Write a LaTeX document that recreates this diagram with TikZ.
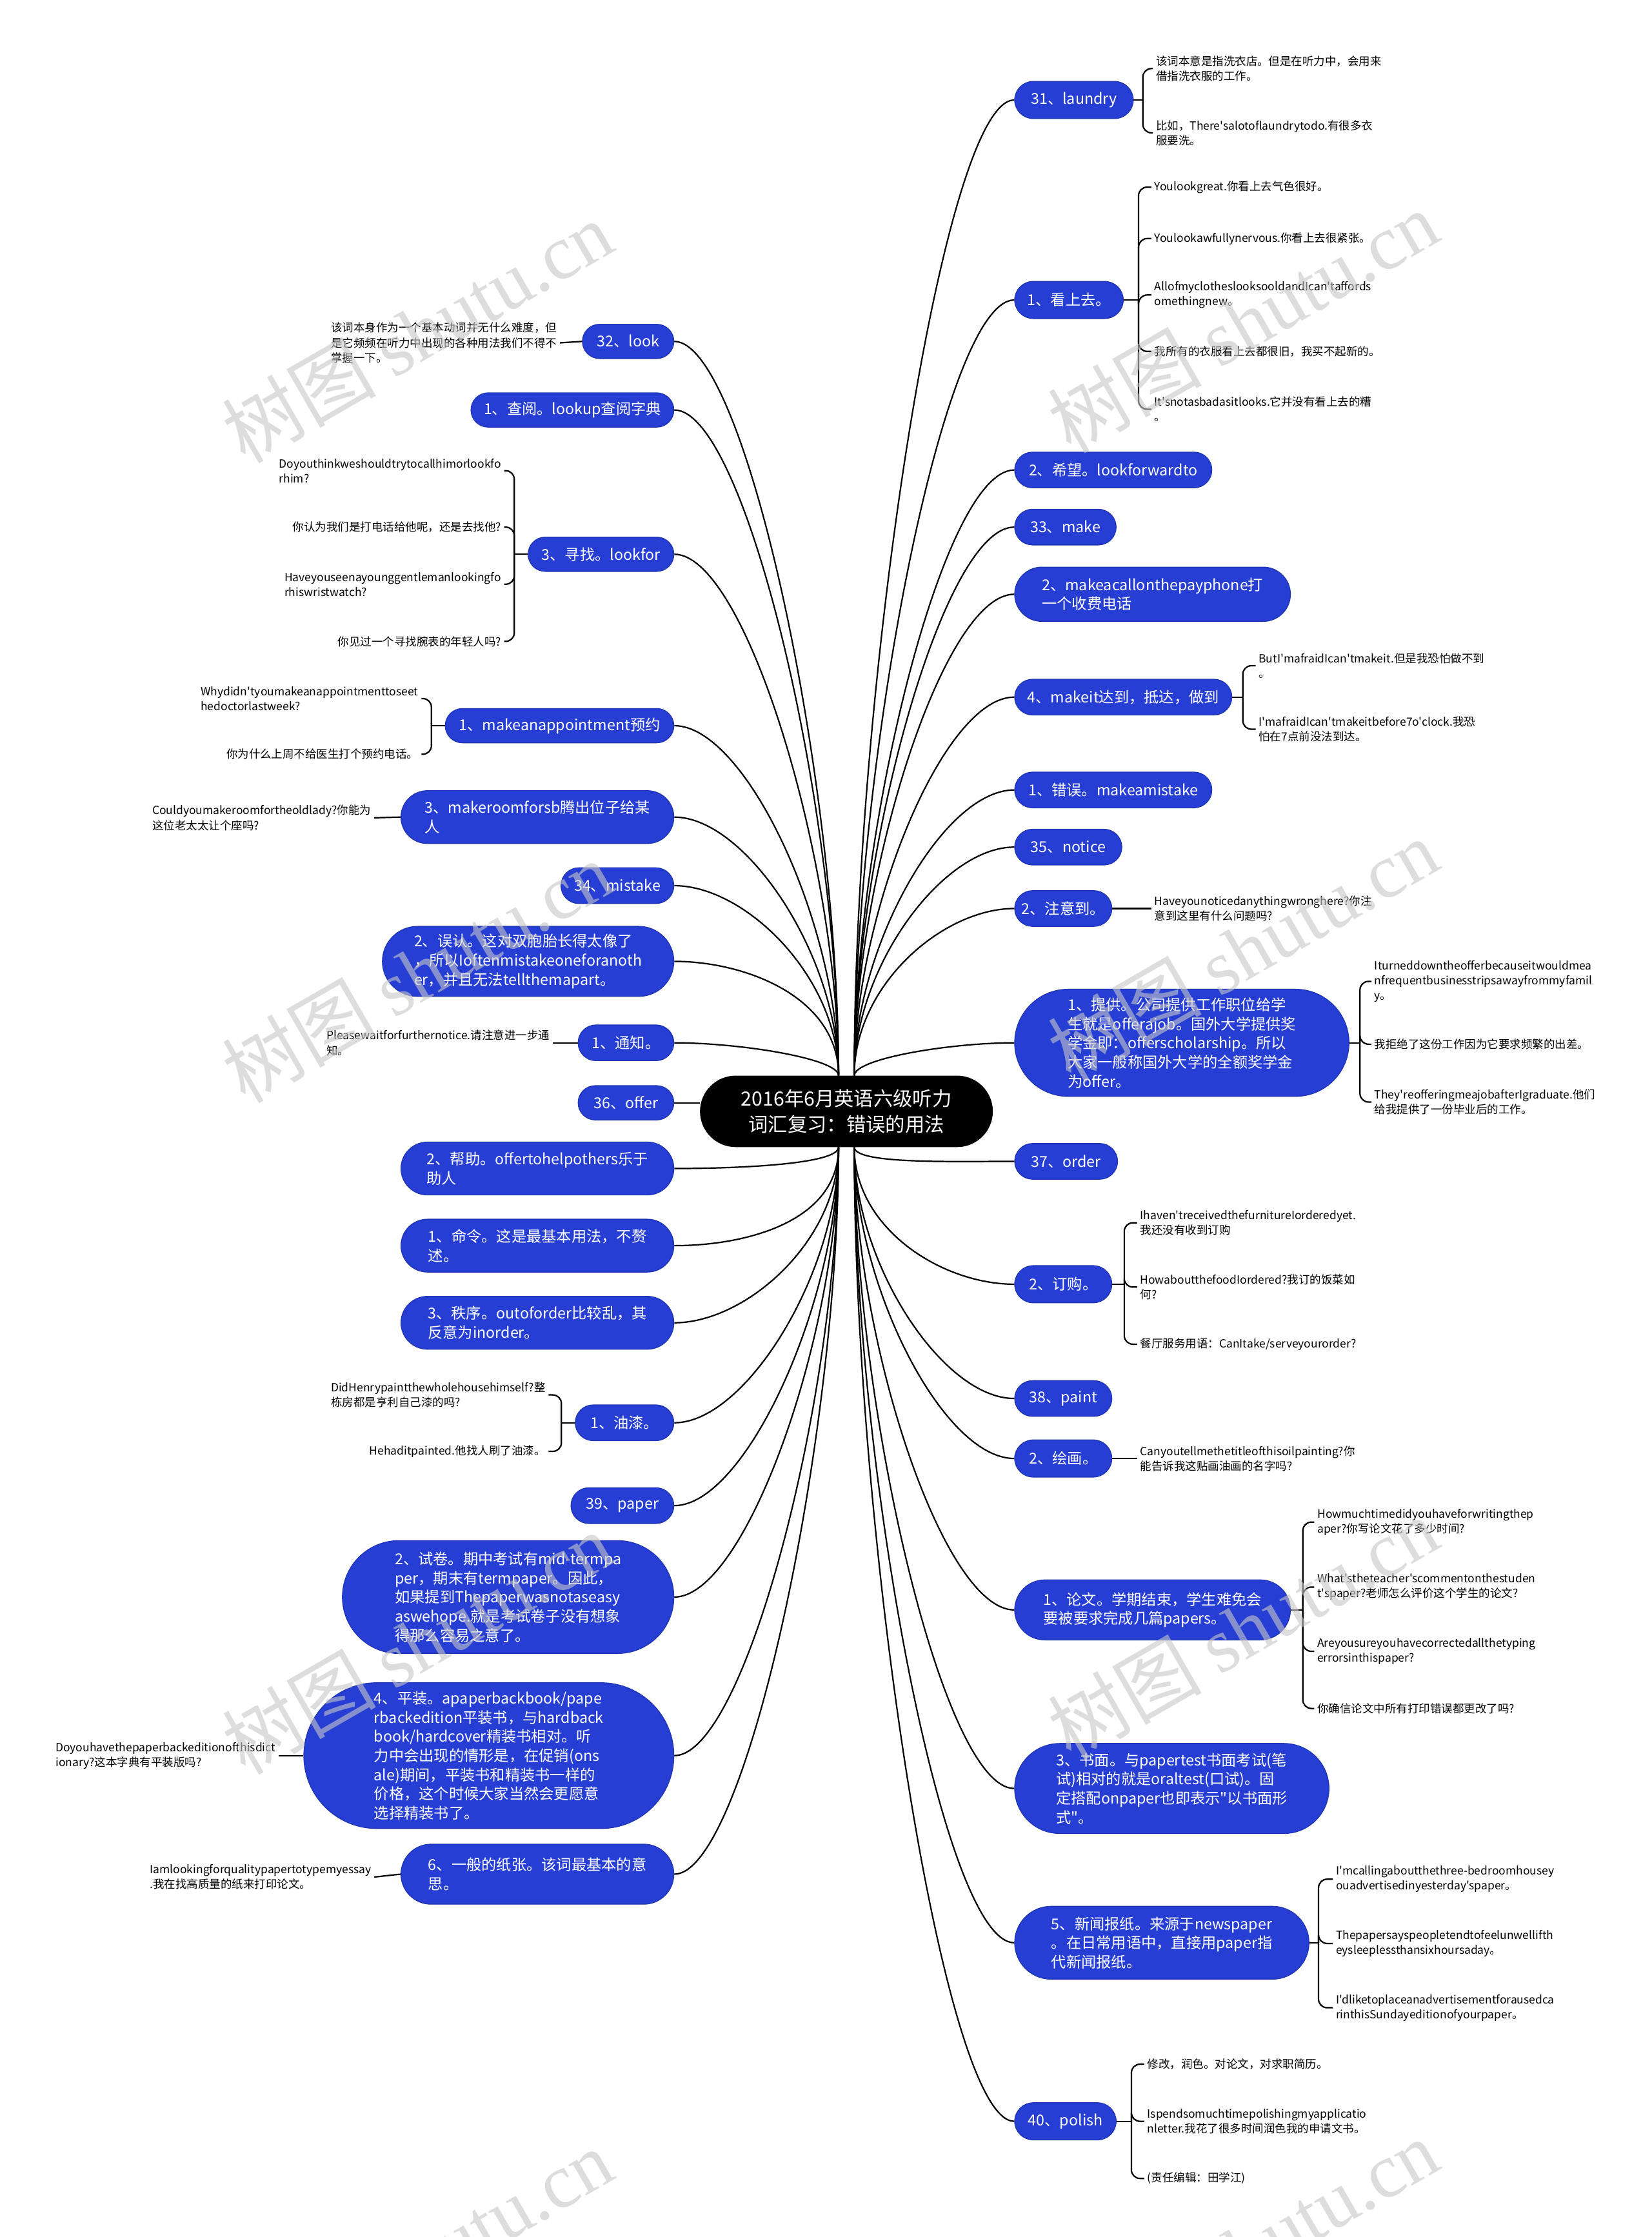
\documentclass[tikz,border=0pt]{standalone}
\usepackage{fontspec}
\setmainfont{Noto Sans CJK SC}[Ligatures=TeXOff]
\newfontfamily\markfont{Liberation Serif}
\definecolor{nodeblue}{RGB}{38,62,212}

\begin{document}
\begin{tikzpicture}[x=1pt, y=1pt,
  main node/.style={fill=black, text=white, align=center, inner sep=0pt,
    minimum width=205, minimum height=50, rounded corners=25,
    font=\fontsize{13.7}{18}\selectfont},
  sub node/.style 2 args={fill=nodeblue, draw=nodeblue!85!black, line width=0.6pt,
    text=white, align=left, inner sep=0pt, minimum width=#1, minimum height=#2,
    rounded corners=0.5*#2, font=\fontsize{10.5}{13.4}\selectfont},
  leaf node/.style={align=left, inner sep=2pt, font=\fontsize{7.9}{10.5}\selectfont},
  every edge/.style={draw, line width=1pt},
  rise right/.style={out=90, in=180, in max distance=50},
  rise left/.style={out=90, in=0, in max distance=50},
  sink right/.style={out=-90, in=180, in max distance=50},
  sink left/.style={out=-90, in=0, in max distance=50},
  close in/.style={out max distance=12},
  fork/.style={to path={(\tikztostart) |- (\tikztotarget)}, rounded corners=6},
  watermark/.style={text=black!22, opacity=0.6, rotate=30, inner sep=0pt,
    font=\fontsize{54}{54}\selectfont}]
\path[use as bounding box, fill=white] (0,0) rectangle (1156,-1566);

\node[main node] (root) at (592.5,-778) {2016年6月英语六级听力\\词汇复习：错误的用法};
\coordinate (tr) at (598,-753);
\coordinate (tl) at (587,-753);
\coordinate (br) at (598,-803);
\coordinate (bl) at (587,-803);

\node[sub node={83}{26}, anchor=west]  (la) at (710,-70)   {31、laundry};
\node[sub node={76}{26}, anchor=west]  (ks) at (710,-210)  {1、看上去。};
\node[sub node={138}{25}, anchor=west] (lf) at (710,-329)  {2、希望。lookforwardto};
\node[sub node={71}{25}, anchor=west]  (mk) at (710,-369)  {33、make};
\node[sub node={193}{38}, anchor=west] (mc) at (710,-416)  {2、makeacallonthepayphone打\\一个收费电话};
\node[sub node={152}{25}, anchor=west] (mi) at (710,-488)  {4、makeit达到，抵达，做到};
\node[sub node={138}{25}, anchor=west] (me) at (710,-553)  {1、错误。makeamistake};
\node[sub node={75}{25}, anchor=west]  (no) at (710,-593)  {35、notice};
\node[sub node={68}{25}, anchor=west]  (nt) at (710,-636)  {2、注意到。};
\node[sub node={234}{75}, anchor=west] (pv) at (710,-730)  {1、提供。公司提供工作职位给学\\生就是offerajob。国外大学提供奖\\学金即：offerscholarship。所以\\大家一般称国外大学的全额奖学金\\为offer。};
\node[sub node={72}{25}, anchor=west]  (or) at (710,-813)  {37、order};
\node[sub node={68}{26}, anchor=west]  (ob) at (710,-899)  {2、订购。};
\node[sub node={68}{25}, anchor=west]  (pt) at (710,-979)  {38、paint};
\node[sub node={68}{26}, anchor=west]  (pg) at (710,-1021) {2、绘画。};
\node[sub node={193}{42}, anchor=west] (pa) at (710,-1127) {1、论文。学期结束，学生难免会\\要被要求完成几篇papers。};
\node[sub node={220}{63}, anchor=west] (pw) at (710,-1252) {3、书面。与papertest书面考试(笔\\试)相对的就是oraltest(口试)。固\\定搭配onpaper也即表示"以书面形\\式"。};
\node[sub node={206}{51}, anchor=west] (pn) at (710,-1360) {5、新闻报纸。来源于newspaper\\。在日常用语中，直接用paper指\\代新闻报纸。};
\node[sub node={71}{26}, anchor=west]  (po) at (710,-1485) {40、polish};

\node[sub node={64}{24}, anchor=east]   (lk)  at (472,-239)  {32、look};
\node[sub node={142}{24}, anchor=east]  (lu)  at (472,-287)  {1、查阅。lookup查阅字典};
\node[sub node={102}{24}, anchor=east]  (lo)  at (472,-388)  {3、寻找。lookfor};
\node[sub node={160}{24}, anchor=east]  (ap)  at (472,-508)  {1、makeanappointment预约};
\node[sub node={191}{37}, anchor=east]  (mr)  at (472,-572)  {3、makeroomforsb腾出位子给某\\人};
\node[sub node={79}{25}, anchor=east]   (ms)  at (472,-620)  {34、mistake};
\node[sub node={204}{49}, anchor=east]  (mt)  at (472,-673)  {2、误认。这对双胞胎长得太像了\\，所以Ioftenmistakeoneforanoth\\er，并且无法tellthemapart。};
\node[sub node={67}{25}, anchor=east]   (tz)  at (472,-730)  {1、通知。};
\node[sub node={67}{24}, anchor=east]   (ofr) at (472,-772)  {36、offer};
\node[sub node={191}{37}, anchor=east]  (hp)  at (472,-818)  {2、帮助。offertohelpothers乐于\\助人};
\node[sub node={191}{37}, anchor=east]  (cm)  at (472,-872)  {1、命令。这是最基本用法，不赘\\述。};
\node[sub node={191}{37}, anchor=east]  (ox)  at (472,-926)  {3、秩序。outoforder比较乱，其\\反意为inorder。};
\node[sub node={69}{25}, anchor=east]   (pi)  at (472,-996)  {1、油漆。};
\node[sub node={72}{25}, anchor=east]   (pr)  at (472,-1054) {39、paper};
\node[sub node={232}{79}, anchor=east]  (ex)  at (472,-1118) {2、试卷。期中考试有mid-termpa\\per，期末有termpaper。因此，\\如果提到Thepaperwasnotaseasy\\aswehope.就是考试卷子没有想象\\得那么容易之意了。};
\node[sub node={259}{102}, anchor=east] (pb)  at (472,-1229) {4、平装。apaperbackbook/pape\\rbackedition平装书，与hardback\\book/hardcover精装书相对。听\\力中会出现的情形是，在促销(ons\\ale)期间，平装书和精装书一样的\\价格，这个时候大家当然会更愿意\\选择精装书了。};
\node[sub node={191}{42}, anchor=east]  (sh)  at (472,-1312) {6、一般的纸张。该词最基本的意\\思。};

\node[leaf node, anchor=west] (la1) at (807,-48)   {该词本意是指洗衣店。但是在听力中，会用来\\借指洗衣服的工作。};
\node[leaf node, anchor=west] (la2) at (807,-93)   {比如，There'salotoflaundrytodo.有很多衣\\服要洗。};
\node[leaf node, anchor=west] (ks1) at (806,-131)  {Youlookgreat.你看上去气色很好。};
\node[leaf node, anchor=west] (ks2) at (806,-167)  {Youlookawfullynervous.你看上去很紧张。};
\node[leaf node, anchor=west] (ks3) at (806,-206.5) {AllofmyclotheslooksooldandIcan'taffords\\omethingnew。};
\node[leaf node, anchor=west] (ks4) at (806,-246)  {我所有的衣服看上去都很旧，我买不起新的。};
\node[leaf node, anchor=west] (ks5) at (806,-286.5) {It'snotasbadasitlooks.它并没有看上去的糟\\。};
\node[leaf node, anchor=west] (mi1) at (879,-466)  {ButI'mafraidIcan'tmakeit.但是我恐怕做不到\\。};
\node[leaf node, anchor=west] (mi2) at (879,-510.5) {I'mafraidIcan'tmakeitbefore7o'clock.我恐\\怕在7点前没法到达。};
\node[leaf node, anchor=west] (nt1) at (806,-636)  {Haveyounoticedanythingwronghere?你注\\意到这里有什么问题吗?};
\node[leaf node, anchor=west] (pv1) at (960,-687)  {Iturneddowntheofferbecauseitwouldmea\\nfrequentbusinesstripsawayfrommyfamil\\y。};
\node[leaf node, anchor=west] (pv2) at (960,-731)  {我拒绝了这份工作因为它要求频繁的出差。};
\node[leaf node, anchor=west] (pv3) at (960,-771.5) {They'reofferingmeajobafterIgraduate.他们\\给我提供了一份毕业后的工作。};
\node[leaf node, anchor=west] (ob1) at (796,-856)  {Ihaven'treceivedthefurnitureIorderedyet.\\我还没有收到订购};
\node[leaf node, anchor=west] (ob2) at (796,-901)  {HowaboutthefoodIordered?我订的饭菜如\\何?};
\node[leaf node, anchor=west] (ob3) at (796,-941)  {餐厅服务用语：CanItake/serveyourorder?};
\node[leaf node, anchor=west] (pg1) at (796,-1021) {Canyoutellmethetitleofthisoilpainting?你\\能告诉我这贴画油画的名字吗?};
\node[leaf node, anchor=west] (pa1) at (920,-1065.5) {Howmuchtimedidyouhaveforwritingthep\\aper?你写论文花了多少时间?};
\node[leaf node, anchor=west] (pa2) at (920,-1111) {What'stheteacher'scommentonthestuden\\t'spaper?老师怎么评价这个学生的论文?};
\node[leaf node, anchor=west] (pa3) at (920,-1156) {Areyousureyouhavecorrectedallthetyping\\errorsinthispaper?};
\node[leaf node, anchor=west] (pa4) at (920,-1196) {你确信论文中所有打印错误都更改了吗?};
\node[leaf node, anchor=west] (pn1) at (933,-1315.5) {I'mcallingaboutthethree-bedroomhousey\\ouadvertisedinyesterday'spaper。};
\node[leaf node, anchor=west] (pn2) at (933,-1360.5) {Thepapersayspeopletendtofeelunwellifth\\eysleeplessthansixhoursaday。};
\node[leaf node, anchor=west] (pn3) at (933,-1405.5) {I'dliketoplaceanadvertisementforausedca\\rinthisSundayeditionofyourpaper。};
\node[leaf node, anchor=west] (po1) at (801,-1445) {修改，润色。对论文，对求职简历。};
\node[leaf node, anchor=west] (po2) at (801,-1485) {Ispendsomuchtimepolishingmyapplicatio\\nletter.我花了很多时间润色我的申请文书。};
\node[leaf node, anchor=west] (po3) at (801,-1525) {(责任编辑：田学江)};

\node[leaf node, anchor=east] (lk1) at (392,-240)   {该词本身作为一个基本动词并无什么难度，但\\是它频频在听力中出现的各种用法我们不得不\\掌握一下。};
\node[leaf node, anchor=east] (lo1) at (353,-329.5) {Doyouthinkweshouldtrytocallhimorlookfo\\rhim?};
\node[leaf node, anchor=east] (lo2) at (353,-369)   {你认为我们是打电话给他呢，还是去找他?};
\node[leaf node, anchor=east] (lo3) at (353,-409)   {Haveyouseenayounggentlemanlookingfo\\rhiswristwatch?};
\node[leaf node, anchor=east] (lo4) at (353,-449)   {你见过一个寻找腕表的年轻人吗?};
\node[leaf node, anchor=east] (ap1) at (295,-489)   {Whydidn'tyoumakeanappointmenttoseet\\hedoctorlastweek?};
\node[leaf node, anchor=east] (ap2) at (295,-528)   {你为什么上周不给医生打个预约电话。};
\node[leaf node, anchor=east] (mr1) at (262,-572.5) {Couldyoumakeroomfortheoldlady?你能为\\这位老太太让个座吗?};
\node[leaf node, anchor=east] (tz1) at (387,-730)   {Pleasewaitforfurthernotice.请注意进一步通\\知。};
\node[leaf node, anchor=east] (pi1) at (384,-976.5) {DidHenrypaintthewholehousehimself?整\\栋房都是亨利自己漆的吗?};
\node[leaf node, anchor=east] (pi2) at (384,-1016)  {Hehaditpainted.他找人刷了油漆。};
\node[leaf node, anchor=east] (pb1) at (195,-1229)  {Doyouhavethepaperbackeditionofthisdict\\ionary?这本字典有平装版吗?};
\node[leaf node, anchor=east] (sh1) at (262,-1314)  {Iamlookingforqualitypapertotypemyessay\\.我在找高质量的纸来打印论文。};

\coordinate (laj) at (800,-70);
\coordinate (ksj) at (797,-210);
\coordinate (mij) at (870,-488);
\coordinate (pvj) at (952,-730);
\coordinate (obj) at (787,-899);
\coordinate (paj) at (912,-1127);
\coordinate (pnj) at (923,-1360);
\coordinate (poj) at (792,-1485);
\coordinate (loj) at (360,-388);
\coordinate (apj) at (302,-508);
\coordinate (pij) at (393,-996);

\path (tr) edge[rise right] (la.west)
           edge[rise right] (ks.west)
           edge[rise right] (lf.west)
           edge[rise right] (mk.west)
           edge[rise right] (mc.west)
           edge[rise right] (mi.west)
           edge[rise right] (me.west)
           edge[rise right] (no.west)
           edge[rise right] (nt.west)
           edge[rise right, close in] (pv.west);
\path (br) edge[sink right, close in] (or.west)
           edge[sink right] (ob.west)
           edge[sink right] (pt.west)
           edge[sink right] (pg.west)
           edge[sink right] (pa.west)
           edge[sink right] (pw.west)
           edge[sink right] (pn.west)
           edge[sink right] (po.west);
\path (tl) edge[rise left] (lk.east)
           edge[rise left] (lu.east)
           edge[rise left] (lo.east)
           edge[rise left] (ap.east)
           edge[rise left] (mr.east)
           edge[rise left] (ms.east)
           edge[rise left] (mt.east)
           edge[rise left, close in] (tz.east);
\path (ofr.east) edge (root.west |- ofr.east);
\path (bl) edge[sink left, close in] (hp.east)
           edge[sink left] (cm.east)
           edge[sink left] (ox.east)
           edge[sink left] (pi.east)
           edge[sink left] (pr.east)
           edge[sink left] (ex.east)
           edge[sink left] (pb.east)
           edge[sink left] (sh.east);

\path (la.east) edge (laj)
      (laj) edge[fork] (la1.west) edge[fork] (la2.west);
\path (ks.east) edge (ksj)
      (ksj) edge[fork] (ks1.west) edge[fork] (ks2.west) edge[fork] (ks3.west)
            edge[fork] (ks4.west) edge[fork] (ks5.west);
\path (mi.east) edge (mij)
      (mij) edge[fork] (mi1.west) edge[fork] (mi2.west);
\path (nt.east) edge (nt1.west);
\path (pv.east) edge (pvj)
      (pvj) edge[fork] (pv1.west) edge[fork] (pv2.west) edge[fork] (pv3.west);
\path (ob.east) edge (obj)
      (obj) edge[fork] (ob1.west) edge[fork] (ob2.west) edge[fork] (ob3.west);
\path (pg.east) edge (pg1.west);
\path (pa.east) edge (paj)
      (paj) edge[fork] (pa1.west) edge[fork] (pa2.west) edge[fork] (pa3.west)
            edge[fork] (pa4.west);
\path (pn.east) edge (pnj)
      (pnj) edge[fork] (pn1.west) edge[fork] (pn2.west) edge[fork] (pn3.west);
\path (po.east) edge (poj)
      (poj) edge[fork] (po1.west) edge[fork] (po2.west) edge[fork] (po3.west);

\path (lk.west) edge (lk1.east);
\path (lo.west) edge (loj)
      (loj) edge[fork] (lo1.east) edge[fork] (lo2.east) edge[fork] (lo3.east)
            edge[fork] (lo4.east);
\path (ap.west) edge (apj)
      (apj) edge[fork] (ap1.east) edge[fork] (ap2.east);
\path (mr.west) edge (mr1.east);
\path (tz.west) edge (tz1.east);
\path (pi.west) edge (pij)
      (pij) edge[fork] (pi1.east) edge[fork] (pi2.east);
\path (pb.west) edge (pb1.east);
\path (sh.west) edge (sh1.east);

\foreach \wx/\wy in {292/232, 870/225, 292/680, 870/665, 292/1150, 870/1140, 292/1582, 870/1575}
  \node[watermark] (wm\wx\wy) at (\wx,-\wy) {树图 {\markfont shutu.cn}};
\end{tikzpicture}
\end{document}
